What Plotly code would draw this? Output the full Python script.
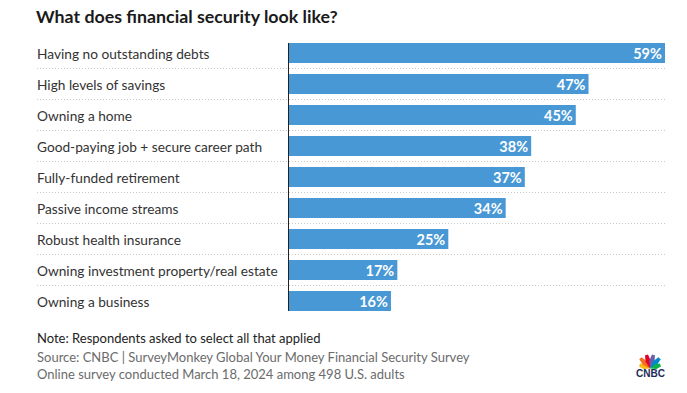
import plotly.graph_objects as go
import math

categories = [
    "Having no outstanding debts",
    "High levels of savings",
    "Owning a home",
    "Good-paying job + secure career path",
    "Fully-funded retirement",
    "Passive income streams",
    "Robust health insurance",
    "Owning investment property/real estate",
    "Owning a business",
]
values = [59, 47, 45, 38, 37, 34, 25, 17, 16]
value_labels = [f"{v}%" for v in values]

title = "What does financial security look like?"
note = "Note: Respondents asked to select all that applied"
source1 = "Source: CNBC | SurveyMonkey Global Your Money Financial Security Survey"
source2 = "Online survey conducted March 18, 2024 among 498 U.S. adults"

W, H = 687, 393
L, R, T, B = 289, 665, 43, 311
FONT = "Lato, 'Open Sans', sans-serif"


def px(x):
    return (x - L) / (R - L)


def py(y):
    return (B - y) / (B - T)


fig = go.Figure()
fig.add_trace(go.Bar(
    x=values,
    y=list(range(len(categories))),
    orientation="h",
    marker=dict(color="#4898d6", line=dict(width=0)),
    width=0.645,
    text=value_labels,
    textposition="inside",
    insidetextanchor="end",
    constraintext="none",
    textfont=dict(color="white", size=14.5, family=FONT, weight="bold"),
    cliponaxis=False,
    hoverinfo="skip",
))

annotations = []
for i, c in enumerate(categories):
    annotations.append(dict(
        text=c, x=px(35), y=i, xref="paper", yref="y",
        xanchor="left", yanchor="middle", showarrow=False,
        font=dict(size=13.7, color="#333333", family=FONT),
    ))

annotations.append(dict(
    text="<b>" + title + "</b>", x=px(34), y=py(16), xref="paper", yref="paper",
    xanchor="left", yanchor="middle", showarrow=False,
    font=dict(size=17.8, color="#1a1a1a", family=FONT),
))
annotations.append(dict(
    text=note, x=px(35), y=py(338), xref="paper", yref="paper",
    xanchor="left", yanchor="middle", showarrow=False,
    font=dict(size=13, color="#222222", family=FONT),
))
annotations.append(dict(
    text=source1, x=px(35), y=py(357), xref="paper", yref="paper",
    xanchor="left", yanchor="middle", showarrow=False,
    font=dict(size=13, color="#6b6b6b", family=FONT),
))
annotations.append(dict(
    text=source2, x=px(35), y=py(374), xref="paper", yref="paper",
    xanchor="left", yanchor="middle", showarrow=False,
    font=dict(size=13, color="#6b6b6b", family=FONT),
))
annotations.append(dict(
    text="<b>CNBC</b>", x=px(650), y=py(373.5), xref="paper", yref="paper",
    xanchor="center", yanchor="middle", showarrow=False,
    font=dict(size=10, color="#1c2b5a", family="Arial, sans-serif"),
))

shapes = []
for i in range(len(categories) - 1):
    shapes.append(dict(
        type="line", xref="paper", yref="y",
        x0=px(37), x1=1, y0=i + 0.5, y1=i + 0.5,
        line=dict(color="#c8c8c8", width=1, dash="1px,2px"),
        layer="below",
    ))

# CNBC peacock logo (decoration): teardrop feathers radiating from a base point
peacock_colors = ["#fcb711", "#f37021", "#e4002b", "#6460aa", "#0089d0", "#0db14b"]
bx, by = 650, 368.5
for k, col in enumerate(peacock_colors):
    ang = math.radians(162 - k * 28.8)
    length = 11 if k in (0, 5) else 14
    half_w = 2.6
    ux, uy = math.cos(ang), -math.sin(ang)
    nx, ny = -uy, ux
    tipx, tipy = bx + ux * length, by + uy * length
    mx, my = bx + ux * length * 0.55, by + uy * length * 0.55
    pts = [
        (bx, by),
        (mx + nx * half_w, my + ny * half_w),
        (tipx + nx * half_w * 0.6, tipy + ny * half_w * 0.6),
        (tipx, tipy),
        (tipx - nx * half_w * 0.6, tipy - ny * half_w * 0.6),
        (mx - nx * half_w, my - ny * half_w),
    ]
    path = "M " + " L ".join(f"{px(x):.5f},{py(y):.5f}" for x, y in pts) + " Z"
    shapes.append(dict(
        type="path", xref="paper", yref="paper", path=path,
        fillcolor=col, line=dict(width=0),
    ))

fig.update_layout(
    width=W, height=H,
    margin=dict(l=L, r=W - R, t=T, b=H - B, pad=0),
    paper_bgcolor="white", plot_bgcolor="white",
    showlegend=False,
    xaxis=dict(range=[0, 59], visible=False, fixedrange=True),
    yaxis=dict(
        range=[len(categories) - 1 + 0.3225, -0.3225],
        showticklabels=False, showgrid=False, zeroline=False,
        showline=True, linecolor="#222222", linewidth=1.5,
        ticks="", fixedrange=True,
    ),
    annotations=annotations,
    shapes=shapes,
)

fig.write_html(
    "out.html",
    config={"displayModeBar": False, "staticPlot": True},
    post_script="document.body.style.margin='0';document.body.style.overflow='hidden';",
)
